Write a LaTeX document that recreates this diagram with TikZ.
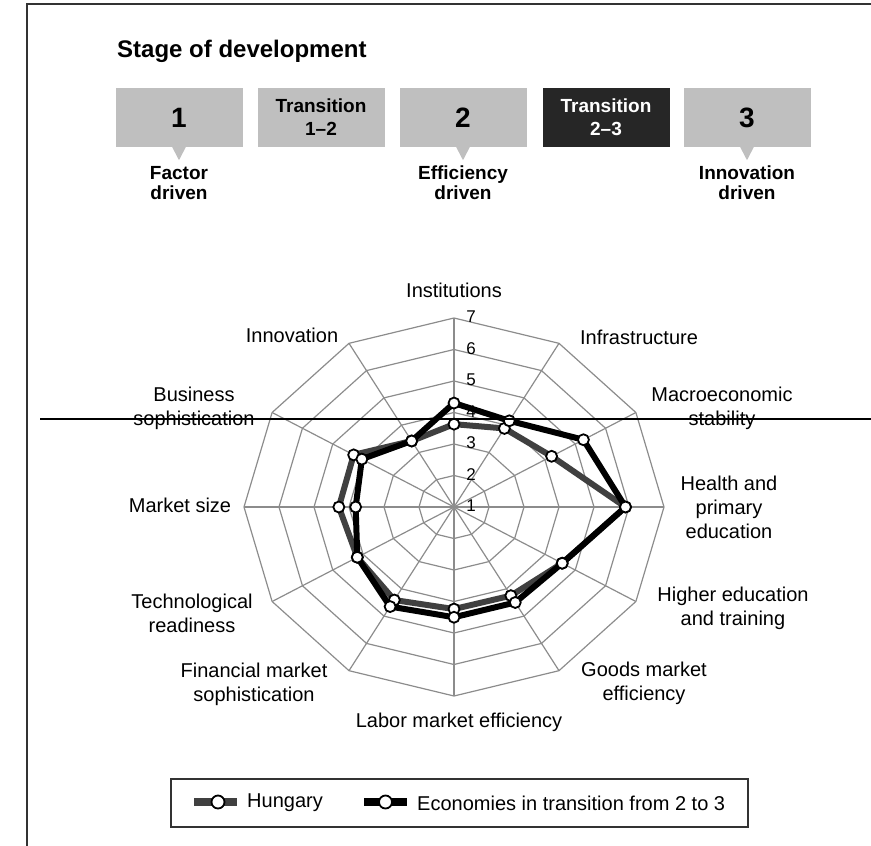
\documentclass[tikz,border=0pt]{standalone}
\usepackage{fontspec}
\setmainfont{Liberation Sans}
\usepackage{tikz}

\tikzset{
  frameline/.style={draw=black!80, line width=2pt},
  stagebox/.style={fill=black!25, minimum width=127pt, minimum height=59pt, inner sep=0pt, align=center, font=\fontsize{19}{23}\selectfont\bfseries},
  darkbox/.style={stagebox, fill=black!85, text=white},
  stagenum/.style={stagebox, font=\fontsize{28}{28}\selectfont\bfseries},
  drivelabel/.style={align=center, inner sep=0pt, font=\fontsize{19}{20}\selectfont\bfseries},
  gridline/.style={draw=black!45, line width=1.2pt},
  ticklabel/.style={inner sep=0pt, font=\fontsize{17}{17}\selectfont},
  axislabel/.style={align=center, inner sep=0pt, font=\fontsize{20}{24}\selectfont},
  hungline/.style={draw=black!75, line width=6pt, line join=round},
  transline/.style={draw=black, line width=6pt, line join=round},
  dot/.style={circle, draw=black, fill=white, line width=1.8pt, inner sep=0pt, minimum size=11pt},
}

\begin{document}
\begin{tikzpicture}[x=1pt, y=-1pt]
        \useasboundingbox (0,0) rectangle (871,846);

        % Draw the frame
        \draw[frameline] (871,4) -- (27,4) -- (27,846);

        % Add the title
        \node[anchor=base west, inner sep=0pt, font=\fontsize{24}{24}\selectfont\bfseries] (title) at (117,57) {Stage of development};

        % Draw the stage boxes
        \node[stagenum] (s1) at (179,117.5) {1};
        \node[stagebox] (t12) at (321,117.5) {Transition\\1--2};
        \node[stagenum] (s2) at (463,117.5) {2};
        \node[darkbox] (t23) at (606,117.5) {Transition\\2--3};
        \node[stagenum] (s3) at (747,117.5) {3};
        \foreach \s in {s1,s2,s3}
          \fill[black!25] ([xshift=-7pt,yshift=0.5pt]\s.south) -- ([xshift=7pt,yshift=0.5pt]\s.south) -- ([yshift=-13pt]\s.south) -- cycle;

        % Add the stage names
        \node[drivelabel] (d1) at (179,183) {Factor\\driven};
        \node[drivelabel] (d2) at (463,183) {Efficiency\\driven};
        \node[drivelabel] (d3) at (747,183) {Innovation\\driven};

        % Draw the radar grid
        \coordinate (c) at (454,507);
        \begin{scope}[shift={(c)}, x=35pt, y=31.5pt]
          \foreach \r in {1,...,6}
            \draw[gridline] (90:\r) \foreach \k in {1,...,11} { -- ({90-30*\k}:\r) } -- cycle;
          \foreach \k in {0,...,11} {
            \coordinate (rim\k) at ({90-30*\k}:6);
            \draw[gridline] (0,0) -- (rim\k);
          }
          \foreach \v in {1,...,7}
            \node[ticklabel] (tick\v) at ([xshift=17pt,yshift=1pt]0,{\v-1}) {\v};

          % Data points
          \foreach \v [count=\i from 0] in {2.63,2.88,3.22,4.90,3.57,3.25,3.24,3.41,3.19,3.29,3.31,2.42}
            \coordinate (hu\i) at ({90-30*\i}:\v);
          \foreach \v [count=\i from 0] in {3.30,3.16,4.27,4.90,3.57,3.50,3.50,3.65,3.19,2.81,3.04,2.42}
            \coordinate (tr\i) at ({90-30*\i}:\v);
          \draw[hungline] (hu0) \foreach \i in {1,...,11} { -- (hu\i) } -- cycle;
          \draw[transline] (tr0) \foreach \i in {1,...,11} { -- (tr\i) } -- cycle;
          \foreach \i in {0,...,11} {
            \node[dot] (hudot\i) at (hu\i) {};
            \node[dot] (trdot\i) at (tr\i) {};
          }
        \end{scope}

        % Add the pillar labels
        \node[axislabel] (inst) at (454,290) {Institutions};
        \node[axislabel] (infra) at (639,337) {Infrastructure};
        \node[axislabel] (macro) at (722,408) {Macroeconomic\\stability};
        \node[axislabel] (health) at (729,507) {Health and\\primary\\education};
        \node[axislabel] (higher) at (733,608) {Higher education\\and training};
        \node[axislabel] (goods) at (644,683) {Goods market\\efficiency};
        \node[axislabel] (labor) at (459,722) {Labor market efficiency};
        \node[axislabel] (finance) at (254,684) {Financial market\\sophistication};
        \node[axislabel] (tech) at (192,613) {Technological\\readiness};
        \node[axislabel] (market) at (180,505) {Market size};
        \node[axislabel] (business) at (194,408) {Business\\sophistication};
        \node[axislabel] (innov) at (292,335) {Innovation};

        % Draw the legend
        \node[draw=black!80, line width=1.8pt, minimum width=577pt, minimum height=48pt] (legend) at (459.5,803) {};
        \coordinate (ha) at (194,802);
        \coordinate (hb) at (237,802);
        \draw[hungline, line width=8pt] (ha) -- (hb);
        \node[dot, minimum size=13pt] (hkey) at (218,802) {};
        \node[axislabel, anchor=west] (hname) at (247,803) {Hungary};
        \coordinate (ta) at (364,802);
        \coordinate (tb) at (407,802);
        \draw[transline, line width=8pt] (ta) -- (tb);
        \node[dot, minimum size=13pt] (tkey) at (385.5,802) {};
        \node[axislabel, anchor=west] (tname) at (417,803) {Economies in transition from 2 to 3};

        % Draw the stray rule
        \draw[line width=1.5pt] (40,419) -- (871,419);
    \end{tikzpicture}
\end{document}
